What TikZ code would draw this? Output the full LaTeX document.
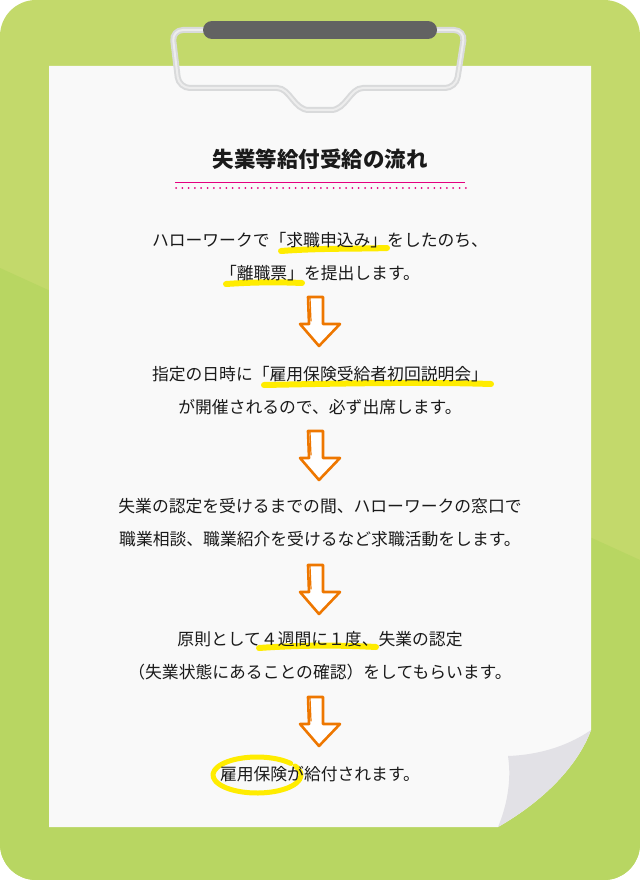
\documentclass[tikz,border=0pt]{standalone}
\usepackage{fontspec}
\setmainfont{Noto Sans CJK JP}
\usetikzlibrary{positioning,calc}
\definecolor{leafgreen}{HTML}{C3D96B}
\definecolor{leafdark}{HTML}{B8D662}
\definecolor{paperwhite}{HTML}{F9F9F9}
\definecolor{curlgray}{HTML}{E2E1E6}
\definecolor{bargray}{HTML}{626262}
\definecolor{wiregray}{HTML}{D9DADB}
\definecolor{wirelight}{HTML}{EDEDED}
\definecolor{inkpink}{HTML}{E4007F}
\definecolor{floworange}{HTML}{EE7700}
\definecolor{markeryellow}{HTML}{FFEC00}
\definecolor{inktext}{HTML}{1A1A1A}
\tikzset{
  bgtop/.style={fill=leafgreen},
  bglow/.style={fill=leafdark},
  paper/.style={fill=paperwhite},
  curl/.style={fill=curlgray},
  clipbar/.style={draw=bargray,line width=18pt,line cap=round},
  clipwire/.style={draw=wiregray,line width=6pt,rounded corners=11pt},
  clipwirein/.style={draw=wirelight,line width=2pt,rounded corners=11pt},
  titletext/.style={font=\fontsize{21.5}{26}\selectfont\bfseries,text=inktext,inner sep=0pt},
  steptext/.style={font=\fontsize{16.8}{33}\selectfont,text=inktext,align=center,inner sep=0pt},
  pinkrule/.style={draw=inkpink,line width=1pt},
  pinkdots/.style={draw=inkpink,line width=2pt,line cap=round,dash pattern=on 0pt off 6.3pt},
  hilite/.style={draw=markeryellow,line width=6pt,line cap=round},
  arrowline/.style={draw=floworange,fill=white,line width=2.6pt,line join=round},
  flowarrow/.pic={
    \draw[arrowline] (-12,0) -- (3,0) -- (3,27) -- (20,27) -- (-1,49)
      -- (-20,27) -- (-11,27) -- cycle;
    \draw[floworange,line width=1.2pt,line cap=round] (-10,1) -- (-9,24);
  },
}

\begin{document}
\begin{tikzpicture}[x=1pt,y=-1pt]
  \useasboundingbox (0,0) rectangle (640,880);
  % background board
  \begin{scope}
    \clip[rounded corners=36pt] (0,0) rectangle (640,880);
    \fill[bgtop] (0,0) rectangle (640,880);
    \fill[bglow] (0,268) -- (640,560) -- (640,880) -- (0,880) -- cycle;
  \end{scope}
  % sheet with curled corner
  \fill[paper] (49,66) -- (591,66) -- (591,730)
    .. controls (578,765) and (545,800) .. (498,827) -- (49,827) -- cycle;
  \fill[curl] (591,730) .. controls (565,748) and (535,755) .. (508,756)
    .. controls (512,782) and (506,808) .. (498,827)
    .. controls (545,800) and (578,765) .. (591,730) -- cycle;
  % clip
  \draw[clipwire] (205,30) -- (172,30) -- (179,88) -- (266,88)
    .. controls (290,88) and (294,110) .. (320,110)
    .. controls (346,110) and (350,88) .. (374,88) -- (456,88) -- (465,30) -- (435,30);
  \draw[clipwirein] (205,30) -- (172,30) -- (179,88) -- (266,88)
    .. controls (290,88) and (294,110) .. (320,110)
    .. controls (346,110) and (350,88) .. (374,88) -- (456,88) -- (465,30) -- (435,30);
  \draw[clipbar] (212,30) -- (428,30);
  % title
  \node[titletext] (title) at (320,159) {失業等給付受給の流れ};
  \draw[pinkrule] (175,182) -- (465,182);
  \draw[pinkdots] (176,188) -- (466,188);
  % markers
  \draw[hilite] (281,251) .. controls (320,248) and (360,249) .. (387,248);
  \draw[hilite] (226,284) .. controls (255,282) and (280,282) .. (302,283);
  \draw[hilite] (264,385) .. controls (360,383) and (430,382) .. (491,384);
  \draw[hilite] (259,648) .. controls (300,645) and (340,645) .. (376,647);
  \draw[markeryellow,line width=5pt,line cap=round]
    (257,775) ++(-30:44 and 18) arc[start angle=-30,end angle=320,x radius=44,y radius=18];
  % steps
  \node[steptext] (step1) at (320,257) {ハローワークで「求職申込み」をしたのち、\\「離職票」を提出します。};
  \pic at (320,297) {flowarrow};
  \node[steptext] (step2) at (320,391) {指定の日時に「雇用保険受給者初回説明会」\\が開催されるので、必ず出席します。};
  \pic at (320,431) {flowarrow};
  \node[steptext] (step3) at (320,523) {失業の認定を受けるまでの間、ハローワークの窓口で\\職業相談、職業紹介を受けるなど求職活動をします。};
  \pic at (320,565) {flowarrow};
  \node[steptext] (step4) at (320,656) {原則として４週間に１度、失業の認定\\（失業状態にあることの確認）をしてもらいます。};
  \pic at (320,697) {flowarrow};
  \node[steptext] (step5) at (320,774) {雇用保険が給付されます。};
\end{tikzpicture}
\end{document}
